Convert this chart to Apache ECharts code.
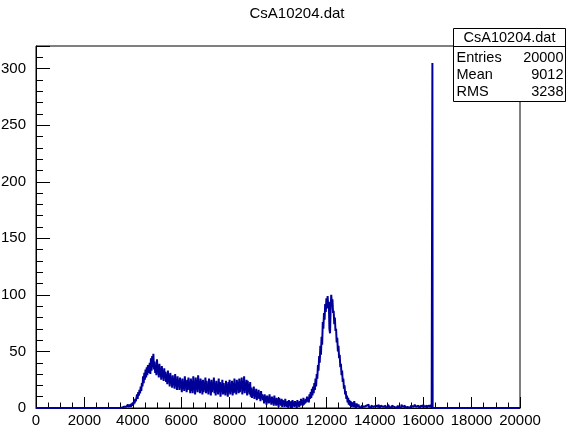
<!DOCTYPE html>
<html>
<head>
<meta charset="utf-8">
<script src="https://cdn.jsdelivr.net/npm/echarts@6/dist/echarts.min.js"></script>
<style>
html,body{margin:0;padding:0;background:#fff;}
#chart{width:567px;height:430px;}
</style>
</head>
<body>
<div id="chart"></div>
<script>
const histTitle = 'CsA10204.dat';
// Main region: bins of width 25 from 3400 to 13400
const mainStart = 3400;
const mainWidth = 25;
const countsMain = [
  0,0,1,0,0,1,0,1,1,0,2,1,0,1,2,1,3,1,2,1,                 // 3400-3875
  3,1,4,2,5,3,6,4,8,6,9,12,8,14,11,16,13,19,15,22,         // 3900-4375
  19,28,22,31,25,34,27,36,29,38,31,35,40,30,44,33,46,36,48,34, // 4400-4875
  41,31,38,29,43,32,36,27,39,30,34,25,37,28,33,24,35,27,32,23, // 4900-5375
  30,21,33,24,28,19,31,22,27,18,29,21,26,17,30,20,25,16,28,19, // 5400-5875
  25,16,27,18,24,14,26,17,23,15,28,19,22,14,25,16,27,18,21,13, // 5900-6375
  26,15,24,13,28,17,22,12,27,16,25,14,29,18,21,13,26,15,24,12, // 6400-6875
  25,14,22,16,27,13,24,15,20,12,26,17,23,11,25,14,21,16,27,13, // 6900-7375
  22,11,24,15,20,12,26,14,23,10,21,16,25,12,22,13,19,11,24,14, // 7400-7875
  21,10,23,14,25,12,20,15,24,11,22,13,26,14,21,12,25,16,23,13, // 7900-8375
  26,14,23,17,27,12,24,15,28,13,22,16,25,11,24,14,21,12,23,10, // 8400-8875
  18,9,16,11,19,8,15,10,17,7,14,9,16,8,13,6,15,9,12,7,         // 8900-9375
  11,4,12,6,10,3,11,5,9,4,12,6,8,3,10,5,9,2,11,4,              // 9400-9875
  8,2,9,3,7,1,9,4,6,2,8,1,7,3,6,1,8,2,5,1,                     // 9900-10375
  6,0,7,2,5,1,6,0,7,2,4,1,6,2,5,0,7,3,5,1,                     // 10400-10875
  6,2,8,3,7,2,9,3,6,4,8,5,10,6,9,5,12,8,14,9,                  // 10900-11375
  17,11,19,13,22,16,26,19,30,26,38,33,46,40,55,47,63,56,76,70, // 11400-11875
  84,78,92,85,97,88,99,90,94,70,66,88,100,92,96,84,86,74,80,68, // 11900-12375
  70,58,62,50,55,44,47,36,39,29,33,23,26,17,20,12,15,8,11,5,   // 12400-12875
  9,3,7,2,6,1,5,3,4,1,6,2,3,0,4,1,2,3,1,2                      // 12900-13375
];
// Tail region: bins of width 50 from 13400 to 16350
const tailStart = 13400;
const tailWidth = 50;
const countsTail = [
  0,2,1,0,2,1,3,1,0,2,            // 13400-13850
  1,0,2,1,1,3,0,2,1,1,            // 13900-14350
  2,0,1,3,1,0,2,1,2,0,            // 14400-14850
  1,2,0,1,3,1,2,0,1,2,            // 14900-15350
  0,1,2,1,0,3,1,2,1,0,            // 15400-15850
  2,1,3,1,2,0,2,1,3               // 15900-16300
];
// overflow spike (narrow bin)
const spikeBin = [16380, 16390];
const spikeCount = 305;
const xMin = 0, xMax = 20000, xStep = 2000;
const yMin = 0, yMax = 320, yStep = 50;
const statsLabels = ['Entries', 'Mean', 'RMS'];
const statsValues = ['20000', '9012', '3238'];

// build step data from bins
const histData = [[xMin, 0], [mainStart, 0]];
countsMain.forEach((c, i) => histData.push([mainStart + i * mainWidth, c]));
countsTail.forEach((c, i) => histData.push([tailStart + i * tailWidth, c]));
histData.push([tailStart + countsTail.length * tailWidth, 0]);
histData.push([spikeBin[0], 0]);
histData.push([spikeBin[0], spikeCount]);
histData.push([spikeBin[1], 0]);
histData.push([xMax, 0]);

const FONT = 'Liberation Sans, Arial, Helvetica, sans-serif';
const chart = echarts.init(document.getElementById('chart'), null, {renderer: 'canvas'});

const statsGraphics = [];
const bx = 453.5, by = 28.5, bw = 112, bh = 73;
statsGraphics.push({type: 'rect', shape: {x: bx, y: by, width: bw, height: bh},
  style: {fill: '#fff', stroke: '#000', lineWidth: 1}, z: 100});
statsGraphics.push({type: 'line', shape: {x1: bx, y1: 46.5, x2: bx + bw, y2: 46.5},
  style: {stroke: '#000', lineWidth: 1}, z: 101});
statsGraphics.push({type: 'text', x: bx + bw / 2, y: 37.5, z: 102,
  style: {text: histTitle, font: '14.5px ' + FONT, fill: '#000', align: 'center', verticalAlign: 'middle'}});
statsLabels.forEach((lab, i) => {
  const yy = 57.5 + i * 17;
  statsGraphics.push({type: 'text', x: bx + 3, y: yy, z: 102,
    style: {text: lab, font: '14.5px ' + FONT, fill: '#000', align: 'left', verticalAlign: 'middle'}});
  statsGraphics.push({type: 'text', x: bx + bw - 2, y: yy, z: 102,
    style: {text: statsValues[i], font: '14.5px ' + FONT, fill: '#000', align: 'right', verticalAlign: 'middle'}});
});

chart.setOption({
  animation: false,
  backgroundColor: '#fff',
  grid: {left: 36, right: 47, top: 46, bottom: 22, show: true, borderColor: '#000', borderWidth: 1,
    containLabel: false, outerBoundsMode: 'none'},
  graphic: [
    {type: 'text', x: 297, y: 14, z: 102,
     style: {text: histTitle, font: '15px ' + FONT, fill: '#000', align: 'center', verticalAlign: 'middle'}}
  ].concat(statsGraphics),
  xAxis: {
    type: 'value', min: xMin, max: xMax, interval: xStep,
    axisLine: {show: true, onZero: false, lineStyle: {color: '#000', width: 1}},
    axisTick: {show: true, inside: true, length: 11, lineStyle: {color: '#000'}},
    minorTick: {show: true, splitNumber: 4, length: 5.5, lineStyle: {color: '#000'}},
    splitLine: {show: false},
    axisLabel: {color: '#000', fontFamily: FONT, fontSize: 15, margin: 5,
      formatter: v => String(v)}
  },
  yAxis: {
    type: 'value', min: yMin, max: yMax, interval: yStep,
    axisLine: {show: true, onZero: false, lineStyle: {color: '#000', width: 1}},
    axisTick: {show: true, inside: true, length: 14, lineStyle: {color: '#000'}},
    minorTick: {show: true, splitNumber: 5, length: 7, lineStyle: {color: '#000'}},
    splitLine: {show: false},
    axisLabel: {color: '#000', fontFamily: FONT, fontSize: 15, margin: 10,
      formatter: v => (v % yStep === 0 ? String(v) : '')}
  },
  series: [{
    type: 'line', step: 'end', data: histData, showSymbol: false, symbol: 'none',
    lineStyle: {color: '#000099', width: 2}, z: 3, silent: true, clip: true
  }]
});
</script>
</body>
</html>
